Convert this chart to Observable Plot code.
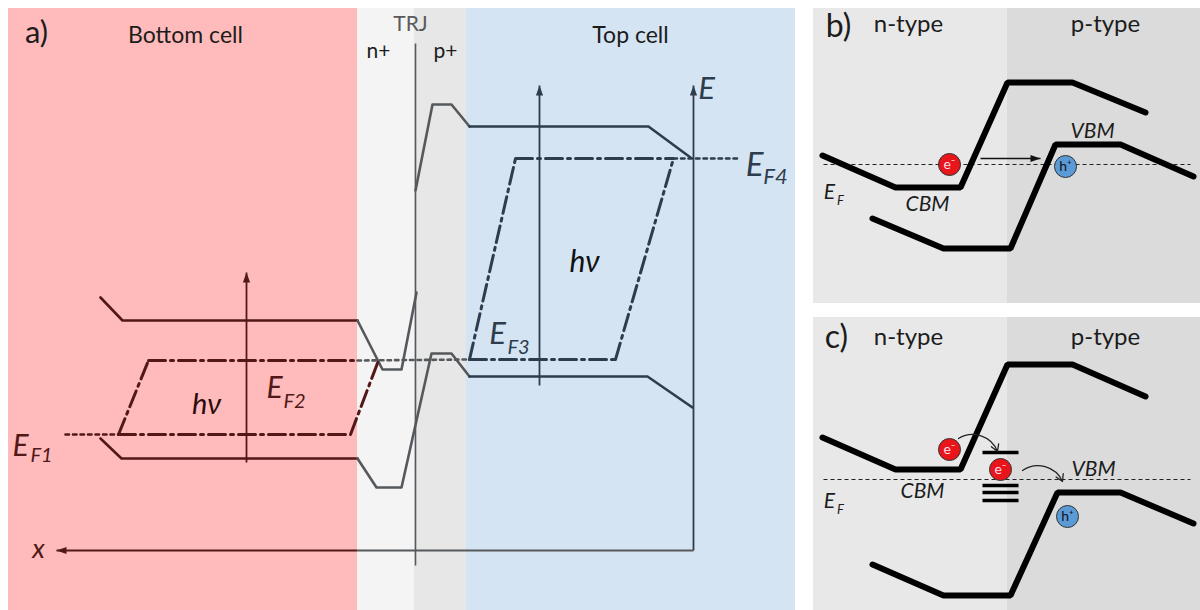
<!DOCTYPE html>
<html><head><meta charset="utf-8">
<script src="https://cdn.jsdelivr.net/npm/d3@7"></script>
<script src="https://cdn.jsdelivr.net/npm/@observablehq/plot@0.6"></script>
<style>html,body{margin:0;padding:0;background:#fff;}#chart svg{display:block}</style>
</head><body><div id="chart"></div>
<script>
// ---- panel backgrounds (diagram units) ----
const panels = [
  {name:"bottom", x1:8, x2:357, y1:8, y2:610},
  {name:"nplus", x1:357, x2:414, y1:8, y2:610},
  {name:"pplus", x1:414, x2:466, y1:8, y2:610},
  {name:"top", x1:466, x2:795, y1:8, y2:610},
  {name:"bN", x1:813, x2:1007, y1:8, y2:303},
  {name:"bP", x1:1007, x2:1200, y1:8, y2:303},
  {name:"cN", x1:813, x2:1007, y1:317, y2:610},
  {name:"cP", x1:1007, x2:1200, y1:317, y2:610}
];
// ---- panel a: band edges ----
const bandsA = [
  {id:"bottomCB", zone:"bottom", pts:[[100,297],[122,320],[357,320]]},
  {id:"bottomVB", zone:"bottom", pts:[[100,438],[121,458],[357,458]]},
  {id:"nCB", zone:"trj", pts:[[357,320],[382,369],[401,369],[416,292]]},
  {id:"pCB", zone:"trj", pts:[[415,190],[432,104],[451,104],[469,126]]},
  {id:"trjVB", zone:"trj", pts:[[357,458],[376,487],[401,487],[431,353],[451,353],[469,376]]},
  {id:"topCB", zone:"top", pts:[[469,126],[648,126],[690,157]]},
  {id:"topVB", zone:"top", pts:[[469,376],[647,376],[692,407]]}
];
// ---- panel a: quasi-Fermi levels ----
const levelsDashDot = [
  {id:"EF1", zone:"bottom", pts:[[118,434],[350,434]]},
  {id:"slantB1", zone:"bottom", pts:[[118,434],[148,360]]},
  {id:"EF2", zone:"bottom", pts:[[148,360],[357,360]]},
  {id:"slantB2", zone:"bottom", pts:[[350,434],[378,360]]},
  {id:"EF3", zone:"top", pts:[[469,359],[615,359]]},
  {id:"slantT1", zone:"top", pts:[[469,359],[515,158]]},
  {id:"EF4", zone:"top", pts:[[515,158],[673,158]]},
  {id:"slantT2", zone:"top", pts:[[615,359],[673,158]]}
];
const levelsDotted = [
  {id:"EF1tail", zone:"bottom", pts:[[65,434],[118,434]]},
  {id:"trjLevel", zone:"trj", pts:[[357,360],[469,359]]},
  {id:"EF4tail", zone:"top", pts:[[673,158],[740,158]]}
];
const dividers = [{zone:"trj", x:415, y1:43, y2:565}];
// ---- arrows ----
const arrows = [
  {zone:"bottom", x1:246, y1:462, x2:246, y2:272, head:true},
  {zone:"top", x1:539, y1:385, x2:539, y2:85, head:true},
  {zone:"top", x1:693, y1:550, x2:693, y2:85, head:true},
  {zone:"trj", x1:693, y1:550, x2:357, y2:550, head:false},
  {zone:"bottom", x1:357, y1:550, x2:56, y2:550, head:true},
  {zone:"bc", x1:980, y1:158, x2:1040, y2:158, head:true}
];
const curvedArrows = [
  {x1:958, y1:438, x2:997, y2:451},
  {x1:1022, y1:470, x2:1062, y2:481}
];
// ---- panels b, c ----
const bandsBC = [
  {id:"bCB", pts:[[822,155],[895,187],[960,187],[1007,82],[1072,82],[1145,112]]},
  {id:"bVB", pts:[[872,218],[943,248],[1010,248],[1055,144],[1120,144],[1193,176]]},
  {id:"cCB", pts:[[822,437],[895,469],[960,469],[1007,364],[1072,364],[1145,396]]},
  {id:"cVB", pts:[[872,564],[943,595],[1010,595],[1057,492],[1120,492],[1193,523]]}
];
const fermiBC = [{x1:823, x2:1190, y:164}, {x1:823, x2:1190, y:479}];
const defectLevels = [
  {x1:982, x2:1018, y:452}, {x1:982, x2:1018, y:485},
  {x1:982, x2:1018, y:492}, {x1:982, x2:1018, y:500}
];
const carriers = [
  {type:"e", label:"e\u207B", x:949, y:164},
  {type:"h", label:"h\u207A", x:1065, y:166},
  {type:"e", label:"e\u207B", x:949, y:449},
  {type:"e", label:"e\u207B", x:1000, y:469},
  {type:"h", label:"h\u207A", x:1067, y:516}
];
// ---- labels ----
const labelsUpright = [
  {text:"a)", x:36, y:33, size:31, zone:"ink"},
  {text:"Bottom cell", x:185, y:35, size:23, zone:"ink"},
  {text:"TRJ", x:410, y:24, size:21, zone:"trjText"},
  {text:"n+", x:378, y:51, size:21, zone:"ink"},
  {text:"p+", x:445, y:51, size:21, zone:"ink"},
  {text:"Top cell", x:630, y:35, size:23, zone:"ink"},
  {text:"b)", x:838, y:26, size:32, zone:"ink"},
  {text:"n-type", x:908, y:24, size:24, zone:"ink"},
  {text:"p-type", x:1105, y:24, size:24, zone:"ink"},
  {text:"c)", x:836, y:337, size:32, zone:"ink"},
  {text:"n-type", x:908, y:337, size:24, zone:"ink"},
  {text:"p-type", x:1105, y:337, size:24, zone:"ink"}
];
const labelsItalic = [
  {text:"E", x:706, y:89, size:31, zone:"top"},
  {text:"E", x:754, y:165, size:33, zone:"top"},
  {text:"F4", x:775, y:176, size:22, zone:"top"},
  {text:"h\u03BD", x:584, y:262, size:30, zone:"topText"},
  {text:"E", x:497, y:334, size:31, zone:"top"},
  {text:"F3", x:518, y:347, size:20, zone:"top"},
  {text:"E", x:274, y:388, size:30, zone:"bottom"},
  {text:"F2", x:294, y:401, size:20, zone:"bottom"},
  {text:"h\u03BD", x:206, y:404, size:29, zone:"bottomText"},
  {text:"E", x:20, y:446, size:30, zone:"bottom"},
  {text:"F1", x:41, y:455, size:20, zone:"bottom"},
  {text:"x", x:38, y:549, size:27, zone:"bottom"},
  {text:"VBM", x:1092, y:131, size:21, zone:"ink"},
  {text:"CBM", x:927, y:204, size:21, zone:"ink"},
  {text:"E", x:829, y:192, size:21, zone:"ink"},
  {text:"F", x:840, y:200, size:13, zone:"ink"},
  {text:"VBM", x:1093, y:469, size:21, zone:"ink"},
  {text:"CBM", x:922, y:491, size:21, zone:"ink"},
  {text:"E", x:829, y:501, size:21, zone:"ink"},
  {text:"F", x:840, y:509, size:13, zone:"ink"}
];

// ---- styles ----
const panelFill = {bottom:"#ffbbbb", nplus:"#f4f4f4", pplus:"#e7e7e7", top:"#d5e4f3",
  bN:"#e8e8e8", bP:"#dbdbdb", cN:"#e8e8e8", cP:"#dbdbdb"};
const ink = {bottom:"#521818", trj:"#56595c", top:"#2d3d4d", bc:"#111", ink:"#1c1c1c",
  trjText:"#5a5a5a", topText:"#111", bottomText:"#2a0c0c"};
const carrierFill = {e:"#e8161b", h:"#5b9bd5"};
const FONT = "Lato, 'Noto Sans', 'DejaVu Sans', sans-serif";

const flat = s => s.flatMap(d => d.pts.map(([x, y]) => ({id:d.id, zone:d.zone, x, y})));
const headSymbol = {draw(ctx) { ctx.moveTo(0, 0); ctx.lineTo(-3.6, 10); ctx.lineTo(3.6, 10); ctx.closePath(); }};

const chart = Plot.plot({
  width: 1200, height: 610, margin: 0,
  x: {domain: [0, 1200], range: [0, 1200], axis: null},
  y: {domain: [0, 610], range: [0, 610], axis: null},
  color: {type: "identity"},
  style: {background: "#fff", fontFamily: FONT},
  marks: [
    Plot.rect(panels, {x1:"x1", x2:"x2", y1:"y1", y2:"y2", fill: d => panelFill[d.name]}),
    Plot.link(dividers, {x1:"x", x2:"x", y1:"y1", y2:"y2", stroke: d => ink[d.zone], strokeWidth: 1.6}),
    Plot.line(flat(bandsA), {x:"x", y:"y", z:"id", stroke: d => ink[d.zone], strokeWidth: 2.6, strokeLinejoin:"round"}),
    Plot.line(flat(levelsDashDot), {x:"x", y:"y", z:"id", stroke: d => ink[d.zone], strokeWidth: 3, strokeDasharray:"17,5,3,5"}),
    Plot.line(flat(levelsDotted), {x:"x", y:"y", z:"id", stroke: d => ink[d.zone], strokeWidth: 2.6, strokeDasharray:"3.5,4"}),
    Plot.link(arrows, {x1:"x1", y1:"y1", x2:"x2", y2:"y2", stroke: d => ink[d.zone], strokeWidth: d => d.zone === "bc" ? 1.3 : 1.8}),
    Plot.dot(arrows.filter(d => d.head), {x:"x2", y:"y2", symbol: headSymbol, fill: d => ink[d.zone], stroke: "none",
      rotate: d => Math.atan2(d.x2 - d.x1, d.y1 - d.y2) * 180 / Math.PI}),
    Plot.link(fermiBC, {x1:"x1", x2:"x2", y1:"y", y2:"y", stroke:"#222", strokeWidth: 1, strokeDasharray:"4,3"}),
    Plot.line(flat(bandsBC), {x:"x", y:"y", z:"id", stroke:"#000", strokeWidth: 6, strokeLinejoin:"miter"}),
    Plot.link(defectLevels, {x1:"x1", x2:"x2", y1:"y", y2:"y", stroke:"#000", strokeWidth: 3.6}),
    Plot.arrow(curvedArrows, {x1:"x1", y1:"y1", x2:"x2", y2:"y2", bend: 50, headLength: 9, stroke:"#222", strokeWidth: 1.3}),
    Plot.dot(carriers, {x:"x", y:"y", r: 11, fill: d => carrierFill[d.type], stroke:"#333", strokeWidth: 1}),
    Plot.text(carriers, {x:"x", y:"y", text:"label", fontSize: 14, fill: d => d.type === "e" ? "#fde" : "#112", fontFamily: FONT}),
    Plot.text(labelsUpright, {x:"x", y:"y", text:"text", fontSize: d => d.size, fill: d => ink[d.zone], fontFamily: FONT}),
    Plot.text(labelsItalic, {x:"x", y:"y", text:"text", fontSize: d => d.size, fill: d => ink[d.zone], fontFamily: FONT, fontStyle:"italic"})
  ]
});
document.getElementById("chart").append(chart);
</script></body></html>
